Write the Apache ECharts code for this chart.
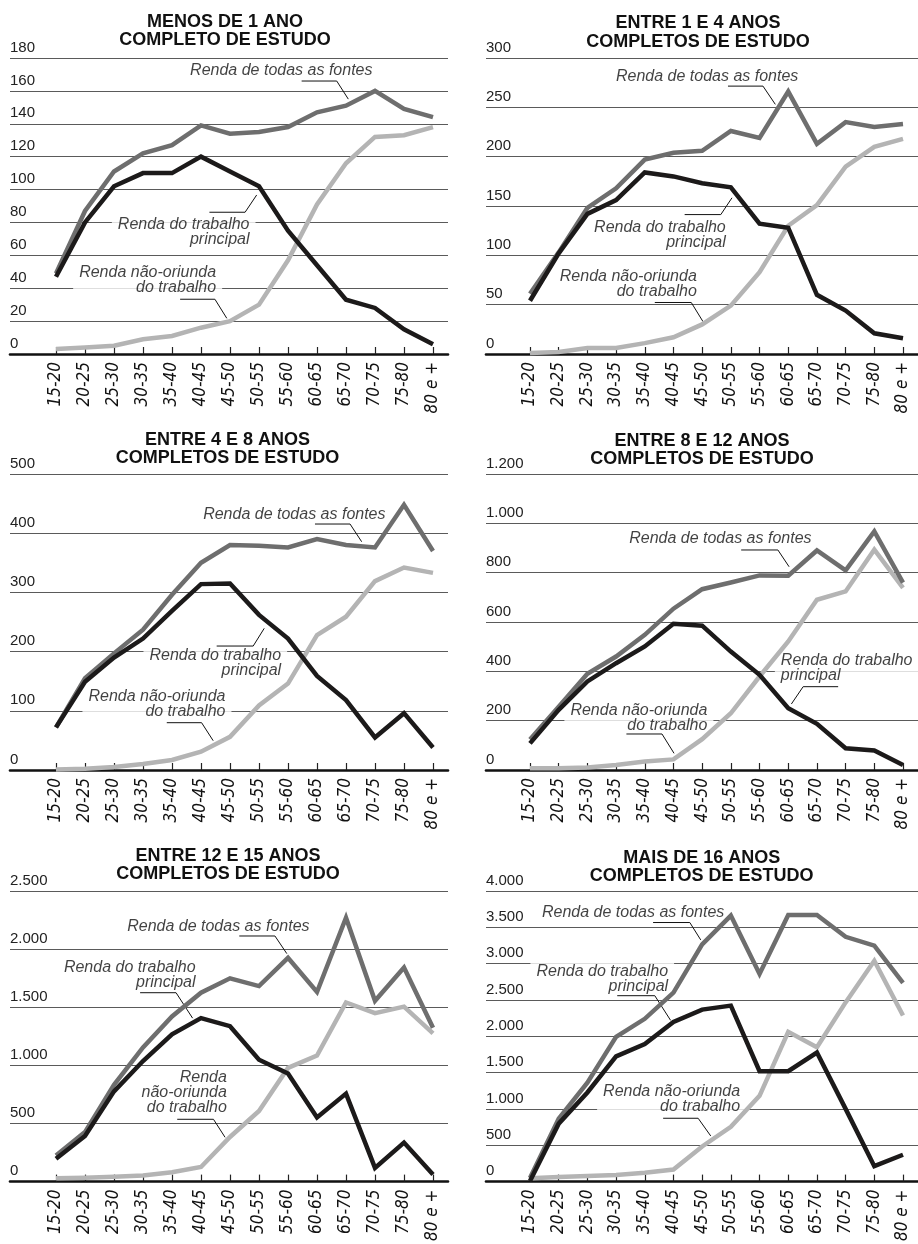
<!DOCTYPE html>
<html><head><meta charset="utf-8">
<script src="https://cdn.jsdelivr.net/npm/echarts@6/dist/echarts.min.js"></script>
<style>html,body{margin:0;padding:0;background:#fff}#c{width:918px;height:1244px}</style>
</head><body><div id="c"></div><script>
const categories = ['15-20','20-25','25-30','30-35','35-40','40-45','45-50','50-55','55-60','60-65','65-70','70-75','75-80','80 e +'];

const todas1 = [49,87,111,122,127,139,134,135,138,147,151,160,149,144];
const trabalho1 = [47,80,102,110,110,120,111,102,75,54,33,28,15,6];
const naoOriunda1 = [3,4,5,9,11,16,20,30,57,91,116,132,133,138];

const todas2 = [61,103,148,168,197,204,206,226,219,266,213,235,230,233];
const trabalho2 = [54,102,142,156,184,180,173,169,132,128,60,44,21,16];
const naoOriunda2 = [1,2,6,6,11,17,30,49,83,130,151,190,210,218];

const todas3 = [72,155,197,237,296,350,380,379,376,390,380,376,448,370];
const trabalho3 = [72,149,190,222,269,314,315,262,222,159,118,55,96,38];
const naoOriunda3 = [1,2,5,10,17,31,56,109,146,228,259,319,342,333];

const todas4 = [124,257,390,460,548,654,733,760,789,788,890,809,967,760];
const trabalho4 = [108,244,359,433,501,593,585,480,386,250,187,88,79,20];
const naoOriunda4 = [7,7,10,20,34,43,125,230,379,521,690,724,893,738];

const todas5 = [224,426,832,1155,1421,1625,1749,1682,1925,1631,2270,1555,1841,1323];
const trabalho5 = [196,392,776,1037,1267,1407,1337,1048,930,552,757,118,336,62];
const naoOriunda5 = [28,34,42,53,81,126,384,608,978,1085,1541,1449,1505,1275];

const todas6 = [50,866,1362,1993,2241,2602,3265,3662,2859,3671,3671,3369,3247,2737];
const trabalho6 = [9,798,1227,1723,1894,2196,2368,2422,1520,1520,1777,1001,212,370];
const naoOriunda6 = [45,63,77,90,122,167,483,753,1181,2061,1849,2467,3039,2286];

const yMax = [180, 300, 500, 1200, 2500, 4000];
const yStep = [20, 50, 100, 200, 500, 500];
const titles = [
  'MENOS DE 1 ANO\nCOMPLETO DE ESTUDO',
  'ENTRE 1 E 4 ANOS\nCOMPLETOS DE ESTUDO',
  'ENTRE 4 E 8 ANOS\nCOMPLETOS DE ESTUDO',
  'ENTRE 8 E 12 ANOS\nCOMPLETOS DE ESTUDO',
  'ENTRE 12 E 15 ANOS\nCOMPLETOS DE ESTUDO',
  'MAIS DE 16 ANOS\nCOMPLETOS DE ESTUDO'
];
const seriesNames = ['Renda não-oriunda do trabalho', 'Renda de todas as fontes', 'Renda do trabalho principal'];

// annotation anchors, in data units (category index, value)
const notes = [
 [
  {text:'Renda de todas as fontes', align:'right', at:[10.93,172.3], leader:[[8.47,166],[9.68,166],[10.08,155]]},
  {text:'Renda do trabalho\nprincipal', align:'right', at:[6.69,73.6], leader:[[5.29,86.2],[6.52,86.2],[6.92,96.7]]},
  {text:'Renda não-oriunda\ndo trabalho', align:'right', at:[5.54,44.5], leader:[[4.28,33.3],[5.48,33.3],[5.89,21.7]]}
 ],
 [
  {text:'Renda de todas as fontes', align:'right', at:[9.37,281], leader:[[6.90,271.5],[8.12,271.5],[8.55,253]]},
  {text:'Renda do trabalho\nprincipal', align:'right', at:[6.84,119.8], leader:[[5.39,141.3],[6.65,141.3],[7.04,158.3]]},
  {text:'Renda não-oriunda\ndo trabalho', align:'right', at:[5.83,70], leader:[[4.35,52.2],[5.62,52.2],[6.03,32.8]]}
 ],
 [
  {text:'Renda de todas as fontes', align:'right', at:[11.38,430.7], leader:[[8.93,415.5],[10.14,415.5],[10.54,385.6]]},
  {text:'Renda do trabalho\nprincipal', align:'right', at:[7.78,180.4], leader:[[5.54,209.4],[6.80,209.4],[7.18,239.3]]},
  {text:'Renda não-oriunda\ndo trabalho', align:'right', at:[5.86,111.1], leader:[[3.82,79.9],[5.02,79.9],[5.42,49.5]]}
 ],
 [
  {text:'Renda de todas as fontes', align:'right', at:[9.83,935], leader:[[7.36,892],[8.64,892],[9.03,824]]},
  {text:'Renda do trabalho\nprincipal', align:'left', at:[8.76,410.7], leader:[[10.74,337.8],[9.52,337.8],[9.11,267.6]]},
  {text:'Renda não-oriunda\ndo trabalho', align:'right', at:[6.20,210], leader:[[3.36,146],[4.60,146],[5.02,67.6]]}
 ],
 [
  {text:'Renda de todas as fontes', align:'right', at:[8.76,2191], leader:[[6.32,2113],[7.55,2113],[7.96,1961]]},
  {text:'Renda do trabalho\nprincipal', align:'right', at:[4.83,1775], leader:[[2.90,1625],[4.14,1625],[4.71,1406]]},
  {text:'Renda\nnão-oriunda\ndo trabalho', align:'right', at:[5.91,760], leader:[[4.18,536],[5.43,536],[5.83,381]]}
 ],
 [
  {text:'Renda de todas as fontes', align:'right', at:[6.79,3702], leader:[[4.29,3566],[5.57,3566],[5.95,3327]]},
  {text:'Renda do trabalho\nprincipal', align:'right', at:[4.83,2787], leader:[[3.04,2559],[4.35,2559],[4.90,2220]]},
  {text:'Renda não-oriunda\ndo trabalho', align:'right', at:[7.34,1135], leader:[[4.64,872],[5.86,872],[6.30,628]]}
 ]
];

const panelData = [
  [naoOriunda1, todas1, trabalho1],
  [naoOriunda2, todas2, trabalho2],
  [naoOriunda3, todas3, trabalho3],
  [naoOriunda4, todas4, trabalho4],
  [naoOriunda5, todas5, trabalho5],
  [naoOriunda6, todas6, trabalho6]
];

// layout (pixels)
const L = {left:10, right:448, cat0:56, cat13:433};
const R = {left:486, right:918, cat0:530, cat13:903};
const rows = [{top:58, bottom:354}, {top:474, bottom:770}, {top:891, bottom:1187}];
const titlePos = [[225,12.5],[698,14],[227.5,430.7],[702,431.7],[228,846.7],[701.7,848.5]];
const lineColors = ['#b4b4b4', '#6e6e6e', '#1c1a1a'];
const FONT = "'Liberation Sans', Arial, sans-serif";
const NARROW = "'Liberation Sans Narrow', 'Arial Narrow', 'DejaVu Sans Condensed', sans-serif";

const fmt = v => String(v).replace(/\B(?=(\d{3})+(?!\d))/g, '.');
const ticks = categories.map((c, i) => i);

const option = {animation:false, backgroundColor:'#fff', title:[], grid:[], xAxis:[], yAxis:[], series:[]};

for (let p = 0; p < 6; p++) {
  const col = p % 2 === 0 ? L : R;
  const row = rows[Math.floor(p / 2)];
  const dx = (col.cat13 - col.cat0) / 13;
  option.title.push({
    text: titles[p], left: titlePos[p][0], top: titlePos[p][1], textAlign: 'center', padding: 0,
    textStyle: {fontFamily: FONT, fontSize: 18, fontWeight: 'bold', lineHeight: 18.5, color: '#111'}
  });
  option.grid.push({left: col.left, top: row.top, width: col.right - col.left, height: row.bottom - row.top, containLabel: false});
  option.xAxis.push({
    gridIndex: p, type: 'value',
    min: -(col.cat0 - col.left) / dx, max: (col.right - col.cat0) / dx,
    axisLine: {show: true, lineStyle: {color: '#111', width: 2.6}},
    axisTick: {show: true, inside: true, length: 7, customValues: ticks, lineStyle: {color: '#222', width: 1.2}},
    axisLabel: {customValues: ticks, formatter: v => categories[Math.round(v)], rotate: 90, margin: 8,
      fontFamily: NARROW, fontStyle: 'italic', fontSize: 17, color: '#111'},
    splitLine: {show: false}
  });
  option.yAxis.push({
    gridIndex: p, type: 'value', min: 0, max: yMax[p], interval: yStep[p],
    axisLine: {show: false}, axisTick: {show: false},
    axisLabel: {inside: true, margin: 0, verticalAlign: 'bottom', formatter: fmt,
      fontFamily: FONT, fontSize: 15, color: '#222', padding: [0,0,3,0]},
    splitLine: {show: true, lineStyle: {color: '#5a5a5a', width: 1}}
  });
  // annotation texts
  option.series.push({
    type: 'scatter', xAxisIndex: p, yAxisIndex: p, z: 1, silent: true,
    symbolSize: 1, itemStyle: {color: 'rgba(0,0,0,0)'},
    data: notes[p].map(n => ({
      value: n.at,
      label: {show: true, formatter: n.text, position: [0, 0], align: n.align, verticalAlign: 'middle',
        offset: [n.align === 'right' ? 6 : -6, 0]}
    })),
    label: {show: true, fontFamily: FONT, fontStyle: 'italic', fontSize: 16, lineHeight: 15, color: '#111',
      backgroundColor: '#fff', padding: [3, 6, 3, 6]}
  });
  // leaders
  notes[p].forEach(n => {
    option.series.push({
      type: 'line', xAxisIndex: p, yAxisIndex: p, z: 3, silent: true, symbol: 'none',
      data: n.leader, lineStyle: {color: '#111', width: 1}
    });
  });
  // data lines
  panelData[p].forEach((arr, k) => {
    option.series.push({
      name: seriesNames[k], type: 'line', xAxisIndex: p, yAxisIndex: p, z: 4 + k, silent: true,
      symbol: 'none', data: arr.map((v, i) => [i, v]),
      lineStyle: {color: lineColors[k], width: 4.5, cap: 'butt', join: 'miter'}
    });
  });
}

const chart = echarts.init(document.getElementById('c'), null, {renderer: 'canvas'});
chart.setOption(option);
</script></body></html>
